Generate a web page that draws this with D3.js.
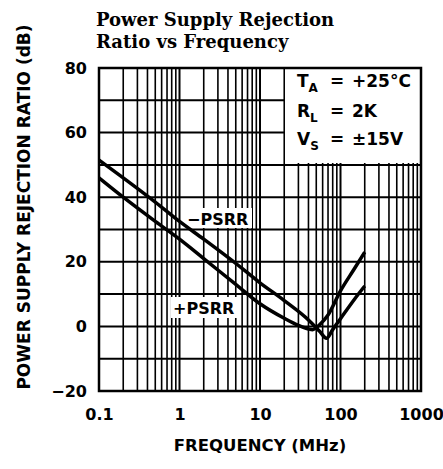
<!DOCTYPE html>
<html><head><meta charset="utf-8">
<script src="https://cdn.jsdelivr.net/npm/d3@7"></script>
<style>
html,body{margin:0;padding:0;background:#fff;}
svg{display:block;}
</style></head>
<body>
<svg id="chart" width="443" height="469"></svg>
<script>
// Data (frequency in MHz, PSRR in dB)
const minusFreq = [0.1, 0.2, 0.5, 1, 2, 5, 10, 20, 40, 55, 67, 80, 100, 150, 200];
const minusPSRR = [51.5, 46, 38.5, 32.5, 27, 19.5, 13.5, 8, 2, -1.5, -3.7, -1, 2.4, 8.5, 12.5];
const plusFreq = [0.1, 0.2, 0.5, 1, 2, 5, 10, 20, 30, 40, 45, 55, 70, 100, 150, 200];
const plusPSRR = [46, 40, 32.5, 27, 21, 13, 7, 2.5, 0.3, -0.8, -1, 0.5, 3.5, 11, 18, 23];
const xTicks = [0.1, 1, 10, 100, 1000];
const xTickLabels = ["0.1", "1", "10", "100", "1000"];
const yTicks = [-20, 0, 20, 40, 60, 80];
const yGrid = [-10, 0, 10, 20, 30, 40, 50, 60, 70];
const condSymbols = ["T", "R", "V"];
const condSubs = ["A", "L", "S"];
const condValues = ["+25°C", "2K", "\u00B115V"];

const svg = d3.select("#chart");
const L = 99, R = 421, T = 68, B = 391;
const x = d3.scaleLog().domain([0.1, 1000]).range([L, R]);
const y = d3.scaleLinear().domain([-20, 80]).range([B, T]);

// grid
const vGrid = [];
for (let e = -1; e <= 2; e++) for (let k = 1; k <= 9; k++) vGrid.push(k * Math.pow(10, e));
svg.append("g").selectAll("line").data(vGrid).join("line")
  .attr("x1", d => x(d)).attr("x2", d => x(d)).attr("y1", T).attr("y2", B)
  .attr("stroke", "#000").attr("stroke-width", d => (Math.abs(Math.log10(d) - Math.round(Math.log10(d))) < 1e-9) ? 2 : 1.6);
svg.append("g").selectAll("line").data(yGrid).join("line")
  .attr("x1", L).attr("x2", R).attr("y1", d => y(d)).attr("y2", d => y(d))
  .attr("stroke", "#000").attr("stroke-width", 2);

// white boxes
svg.append("rect").attr("x", 285).attr("y", T).attr("width", R - 285).attr("height", 95).attr("fill", "#fff");
svg.append("rect").attr("x", 185).attr("y", 208).attr("width", 67).attr("height", 20).attr("fill", "#fff");
svg.append("rect").attr("x", 171).attr("y", 297).attr("width", 69).attr("height", 21).attr("fill", "#fff");

// border
svg.append("rect").attr("x", L).attr("y", T).attr("width", R - L).attr("height", B - T)
  .attr("fill", "none").attr("stroke", "#000").attr("stroke-width", 2.5);

// curves
const line = d3.line().x(d => x(d[0])).y(d => y(d[1])).curve(d3.curveMonotoneX);
svg.append("path").datum(minusFreq.map((f, i) => [f, minusPSRR[i]]))
  .attr("d", line).attr("fill", "none").attr("stroke", "#000").attr("stroke-width", 3.5).attr("stroke-linejoin", "round");
svg.append("path").datum(plusFreq.map((f, i) => [f, plusPSRR[i]]))
  .attr("d", line).attr("fill", "none").attr("stroke", "#000").attr("stroke-width", 3.5).attr("stroke-linejoin", "round");

const sans = "'DejaVu Sans', Verdana, sans-serif";
// axes
const xAxis = d3.axisBottom(x).tickValues(xTicks).tickFormat((d, i) => xTickLabels[i]).tickSize(0).tickPadding(0);
const gx = svg.append("g").attr("transform", `translate(0,420)`).call(xAxis);
gx.select(".domain").remove();
gx.selectAll("text").attr("font-family", sans).attr("font-size", 16).attr("font-weight", "bold").attr("fill", "#000").attr("dy", 0).attr("y", 0);

const yAxis = d3.axisLeft(y).tickValues(yTicks).tickFormat(d => d < 0 ? "\u2212" + Math.abs(d) : d).tickSize(0).tickPadding(0);
const gy = svg.append("g").attr("transform", `translate(${L - 12},0)`).call(yAxis);
gy.select(".domain").remove();
gy.selectAll("text").attr("font-family", sans).attr("font-size", 16).attr("font-weight", "bold").attr("fill", "#000");

// axis titles
svg.append("text").attr("x", 260).attr("y", 451).attr("text-anchor", "middle")
  .attr("font-family", sans).attr("font-size", 16.5).attr("font-weight", "bold").text("FREQUENCY (MHz)");
svg.append("text").attr("transform", "translate(30,207) rotate(-90)").attr("text-anchor", "middle")
  .attr("font-family", sans).attr("font-size", 17).attr("font-weight", "bold").text("POWER SUPPLY REJECTION RATIO (dB)");

// title
const serif = "'DejaVu Serif', 'Liberation Serif', serif";
svg.append("text").attr("x", 96).attr("y", 26).attr("font-family", serif).attr("font-size", 18).attr("font-weight", "bold").text("Power Supply Rejection");
svg.append("text").attr("x", 96).attr("y", 48).attr("font-family", serif).attr("font-size", 18).attr("font-weight", "bold").text("Ratio vs Frequency");

// conditions
const baselines = [87, 117, 145];
condSymbols.forEach((s, i) => {
  const t = svg.append("text").attr("x", 297).attr("y", baselines[i])
    .attr("font-family", sans).attr("font-size", 17).attr("font-weight", "bold");
  t.append("tspan").text(s);
  t.append("tspan").attr("font-size", 12).attr("dy", 5).text(condSubs[i]);
  svg.append("text").attr("x", 330).attr("y", baselines[i]).attr("font-family", sans).attr("font-size", 17).attr("font-weight", "bold").text("=");
  svg.append("text").attr("x", 352).attr("y", baselines[i]).attr("font-family", sans).attr("font-size", 17).attr("font-weight", "bold").text(condValues[i]);
});

// curve labels
svg.append("text").attr("x", 187).attr("y", 225).attr("font-family", sans).attr("font-size", 16).attr("font-weight", "bold").text("\u2212PSRR");
svg.append("text").attr("x", 173).attr("y", 314).attr("font-family", sans).attr("font-size", 16).attr("font-weight", "bold").text("+PSRR");
</script>
</body></html>
